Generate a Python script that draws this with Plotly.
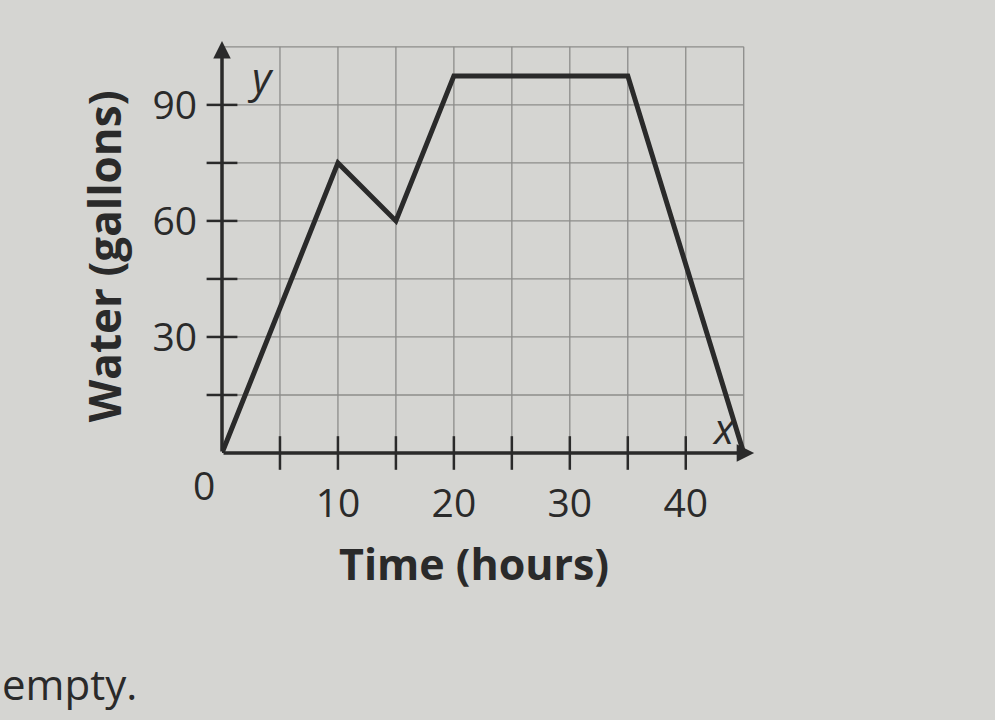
import plotly.graph_objects as go

# Data
time_hours = [0, 10, 15, 20, 35, 45]
water_gallons = [0, 75, 60, 97.5, 97.5, 0]

x_tick_vals = [10, 20, 30, 40]
x_tick_text = ["10", "20", "30", "40"]
y_tick_vals = [30, 60, 90]
y_tick_text = ["30", "60", "90"]
x_minor = [5, 10, 15, 20, 25, 30, 35, 40]
y_minor = [15, 30, 45, 60, 75, 90]

INK = "#2a2a2a"
BG = "#d5d5d2"
FONT = "Open Sans"

fig = go.Figure()

# crossing tick marks on x axis
fig.add_trace(go.Scatter(x=x_minor, y=[0] * len(x_minor), mode="markers",
                         marker=dict(symbol="line-ns-open", size=24, color=INK,
                                     line=dict(color=INK, width=2.5)),
                         cliponaxis=False, hoverinfo="skip", showlegend=False))
# crossing tick marks on y axis
fig.add_trace(go.Scatter(x=[0] * len(y_minor), y=y_minor, mode="markers",
                         marker=dict(symbol="line-ew-open", size=22, color=INK,
                                     line=dict(color=INK, width=2.5)),
                         cliponaxis=False, hoverinfo="skip", showlegend=False))

# data line
fig.add_trace(go.Scatter(x=time_hours, y=water_gallons, mode="lines",
                         line=dict(color=INK, width=5), cliponaxis=False,
                         showlegend=False))

fig.update_xaxes(range=[0, 45.8], tickvals=x_tick_vals, ticktext=x_tick_text,
                 showgrid=False, zeroline=False, showline=False,
                 ticks="", ticklabelstandoff=24,
                 tickfont=dict(family=FONT, size=39, color=INK))
fig.update_yaxes(range=[0, 106], tickvals=y_tick_vals, ticktext=y_tick_text,
                 showgrid=False, zeroline=False, showline=False,
                 ticks="", ticklabelstandoff=24,
                 tickfont=dict(family=FONT, size=39, color=INK))

# axis titles
fig.add_annotation(x=0.475, y=0, xref="paper", yref="paper", text="<b>Time (hours)</b>",
                   showarrow=False, xanchor="center", yanchor="middle", yshift=-110,
                   font=dict(family=FONT, size=43, color=INK))
fig.add_annotation(x=0, y=0.48, xref="paper", yref="paper", text="<b>Water (gallons)</b>",
                   showarrow=False, xanchor="center", yanchor="middle", xshift=-118,
                   textangle=-90, font=dict(family=FONT, size=44, color=INK))

# grid (every 5 hours and 15 gallons)
for gx in range(5, 50, 5):
    fig.add_shape(type="line", x0=gx, x1=gx, y0=0, y1=105, xref="x", yref="y",
                  line=dict(color="#8c8c8a", width=1.3), layer="below")
for gy in range(15, 120, 15):
    fig.add_shape(type="line", x0=0, x1=45, y0=gy, y1=gy, xref="x", yref="y",
                  line=dict(color="#8c8c8a", width=1.3), layer="below")

# axes with arrows
fig.add_annotation(x=45.9, y=0, ax=0, ay=0, xref="x", yref="y", axref="x", ayref="y",
                   showarrow=True, arrowhead=2, arrowsize=1, arrowwidth=3.5,
                   arrowcolor=INK, text="")
fig.add_annotation(x=0, y=106.5, ax=0, ay=0, xref="x", yref="y", axref="x", ayref="y",
                   showarrow=True, arrowhead=2, arrowsize=1, arrowwidth=3.5,
                   arrowcolor=INK, text="")

# origin label and axis letters
fig.add_annotation(x=0, y=0, xref="x", yref="y", text="0", showarrow=False,
                   xshift=-18, yshift=-31, font=dict(family=FONT, size=39, color=INK))
fig.add_annotation(x=0, y=105, xref="x", yref="y", text="<i>y</i>", showarrow=False,
                   xshift=38, yshift=-30, font=dict(family=FONT, size=42, color=INK))
fig.add_annotation(x=45, y=0, xref="x", yref="y", text="<i>x</i>", showarrow=False,
                   xshift=-20, yshift=26, font=dict(family=FONT, size=42, color=INK))

# page text fragment
fig.add_annotation(x=0, y=0, xref="paper", yref="paper", text="empty.", showarrow=False,
                   xanchor="left", yanchor="bottom", xshift=-222, yshift=-267 + 6,
                   font=dict(family=FONT, size=42, color=INK))

fig.update_layout(
    width=995, height=720,
    margin=dict(l=222, r=242, t=43, b=267),
    paper_bgcolor=BG, plot_bgcolor=BG,
    showlegend=False,
)

fig.write_html("out.html", config={"displayModeBar": False},
               post_script="document.body.style.margin='0px';")
